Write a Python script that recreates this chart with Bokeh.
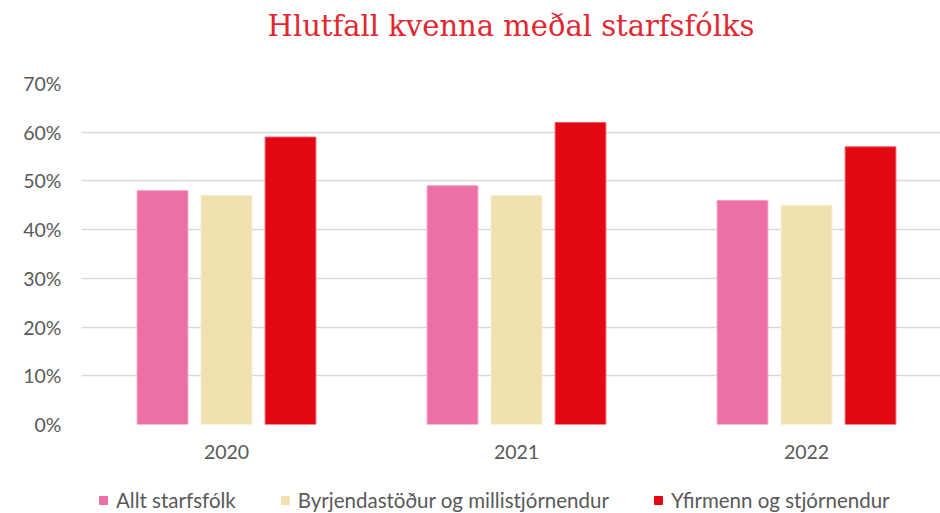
from bokeh.plotting import figure
from bokeh.models import (ColumnDataSource, Legend, LegendItem, PrintfTickFormatter,
                          FixedTicker, Range1d, Title)
from bokeh.layouts import column
from bokeh.embed import file_html
from bokeh.resources import INLINE

# ---- data ----
years = ["2020", "2021", "2022"]
series_names = ["Allt starfsfólk", "Byrjendastöður og millistjórnendur", "Yfirmenn og stjórnendur"]
allt_starfsfolk = [48, 49, 46]
byrjendastodur = [47, 47, 45]
yfirmenn = [59, 62, 57]
series_values = [allt_starfsfolk, byrjendastodur, yfirmenn]
y_ticks = [0, 10, 20, 30, 40, 50, 60, 70]
title_text = "Hlutfall kvenna meðal starfsfólks"

# ---- styles ----
colors = ["#EC6FA6", "#EFE1AF", "#E30613"]
outline = ["#F39CC2", "#F5EBC8", "#EE5A62"]
text_color = "#595959"
grid_color = "#D9D9D9"
offsets = [-0.2207, 0.0, 0.2207]
bar_w = 0.175

centers = [i + 0.5 for i in range(len(years))]

p = figure(frame_width=859, frame_height=341, output_backend="svg", toolbar_location=None,
           x_range=Range1d(0, 2.962), y_range=Range1d(0, 70), title=None,
           min_border_left=81, min_border_right=0, min_border_top=83, min_border_bottom=60)

# spacer between title and plot frame (added first -> nearest the frame)
spacer = Title(text=" ", text_font_size="10px", standoff=28, align="center")
p.add_layout(spacer, "above")
main_title = Title(text=title_text, text_font="DejaVu Serif", text_font_size="29px",
                   text_font_style="normal", text_color="#E3262F", align="center", standoff=0)
p.add_layout(main_title, "above")

renderers = []
for vals, off, col, oc in zip(series_values, offsets, colors, outline):
    src = ColumnDataSource(dict(x=[c + off for c in centers], top=vals))
    r = p.vbar(x="x", top="top", width=bar_w, bottom=0, source=src,
               fill_color=col, line_color=oc, line_width=1)
    renderers.append(r)

p.outline_line_color = None
p.background_fill_color = "white"
p.border_fill_color = "white"

p.xgrid.visible = False
p.ygrid.grid_line_color = grid_color
p.ygrid.grid_line_width = 1.5
p.ygrid.ticker = FixedTicker(ticks=y_ticks)

p.yaxis.ticker = FixedTicker(ticks=y_ticks)
p.yaxis.formatter = PrintfTickFormatter(format="%d%%")
p.xaxis.ticker = FixedTicker(ticks=centers)
p.xaxis.major_label_overrides = {c: y for c, y in zip(centers, years)}

for ax in (p.xaxis, p.yaxis):
    ax.axis_line_color = None
    ax.major_tick_line_color = None
    ax.minor_tick_line_color = None
    ax.major_tick_out = 0
    ax.major_tick_in = 0
    ax.major_label_text_font = "Lato"
    ax.major_label_text_font_size = "19.5px"
    ax.major_label_text_color = text_color
p.yaxis.major_label_standoff = 20
p.xaxis.major_label_standoff = 20

# ---- legend strip below the chart ----
lg = figure(frame_width=859, frame_height=32, output_backend="svg", toolbar_location=None,
            x_range=Range1d(0, 1), y_range=Range1d(0, 1),
            x_axis_location=None, y_axis_location=None,
            min_border_left=81, min_border_right=0, min_border_top=0, min_border_bottom=0)
lg.outline_line_color = None
lg.grid.visible = False
leg_renderers = []
for col in colors:
    # legend-key renderers: a zero-height bar outside the visible range
    leg_renderers.append(lg.vbar(x=[-5], top=[0], bottom=[0], width=0.1,
                                 fill_color=col, line_color=col))

legend = Legend(items=[LegendItem(label=n, renderers=[r]) for n, r in zip(series_names, leg_renderers)],
                orientation="horizontal", location=(17, 4),
                border_line_color=None, background_fill_alpha=0,
                label_text_font="Lato", label_text_font_size="20.5px", label_text_color=text_color,
                glyph_width=10, glyph_height=10, label_standoff=8, spacing=44,
                padding=0, margin=0)
lg.add_layout(legend)

layout = column(p, lg, spacing=0)
open("out.html", "w").write(file_html(layout, INLINE))
